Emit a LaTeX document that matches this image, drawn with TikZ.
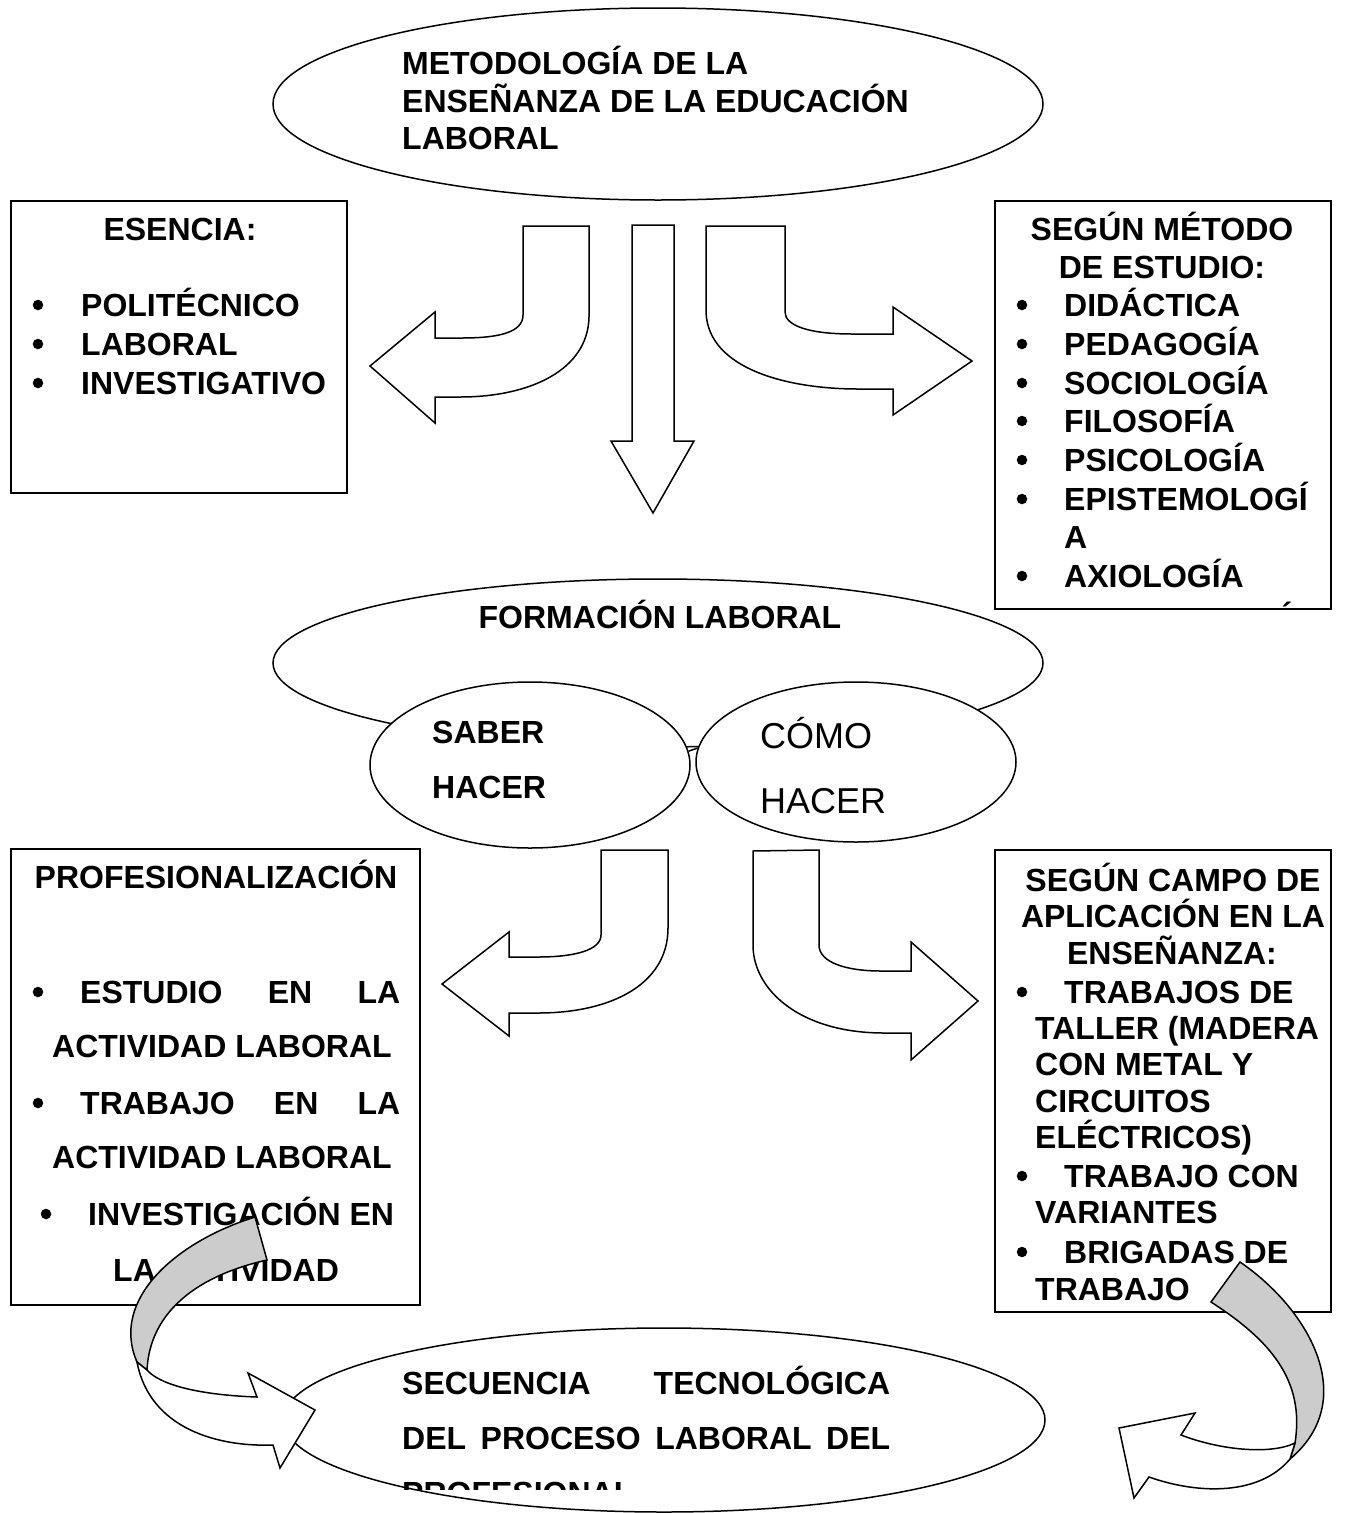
\documentclass[tikz,border=0pt]{standalone}
\usepackage{fontspec}
\setmainfont{Liberation Sans}
\usetikzlibrary{shapes.geometric}

\tikzset{
  caja/.style={draw=black, line width=2pt, inner sep=0pt},
  elipse/.style={ellipse, draw=black, line width=1.5pt, fill=white, inner sep=0pt},
  texto/.style={anchor=base west, inner sep=0pt, font=\bfseries\fontsize{32}{38}\selectfont},
  titulo/.style={texto, anchor=base},
  punto/.style={circle, fill=black, inner sep=0pt, minimum size=10.5pt},
  normal/.style={anchor=base west, inner sep=0pt, font=\fontsize{36}{44}\selectfont},
  flecha/.style={draw=black, line width=1.5pt, fill=white, line join=miter},
  cinta/.style={flecha, fill=black!20}
}

\begin{document}
\begin{tikzpicture}[x=1pt, y=-1pt]
\useasboundingbox (0,0) rectangle (1358,1513);

% cajas laterales
\node[caja, minimum width=336pt, minimum height=292pt] (esencia) at (179,347) {};
\node[titulo] (esencia-t) at (180,240) {ESENCIA:};
\foreach \txt/\yy [count=\i] in {POLITÉCNICO/316, LABORAL/355, INVESTIGATIVO/394} {
  \node[punto] (esencia-b\i) at (38,\yy-11) {};
  \node[texto] (esencia-\i) at (81,\yy) {\txt};
}

\node[caja, minimum width=336pt, minimum height=408pt] (metodo) at (1163,405) {};
\node[titulo] (metodo-t1) at (1162,240) {SEGÚN MÉTODO};
\node[titulo] (metodo-t2) at (1162,278) {DE ESTUDIO:};
\foreach \txt/\yy [count=\i] in {DIDÁCTICA/316, PEDAGOGÍA/355, SOCIOLOGÍA/394, FILOSOFÍA/432, PSICOLOGÍA/471, EPISTEMOLOGÍ/510, AXIOLOGÍA/587} {
  \node[punto] (metodo-b\i) at (1022,\yy-11) {};
  \node[texto] (metodo-\i) at (1064,\yy) {\txt};
}
\node[texto] (metodo-a) at (1064,548) {A};
\node[titulo] (acento) at (1287,625) {´};

\node[caja, minimum width=409pt, minimum height=456pt] (profes) at (215.5,1077) {};
\node[titulo] (profes-t) at (216,888) {PROFESIONALIZACIÓN};
\node[punto] (profes-b1) at (38,992) {};
\node[texto] (profes-1) at (80,1003) {\makebox[320pt][s]{ESTUDIO EN LA}};
\node[texto] (profes-1b) at (52,1057) {ACTIVIDAD LABORAL};
\node[punto] (profes-b2) at (38,1103) {};
\node[texto] (profes-2) at (80,1114) {\makebox[320pt][s]{TRABAJO EN LA}};
\node[texto] (profes-2b) at (52,1168) {ACTIVIDAD LABORAL};
\node[punto] (profes-b3) at (46,1214) {};
\node[texto] (profes-3) at (88,1225) {INVESTIGACIÓN EN};
\node[texto] (profes-3b) at (113,1281) {LA ACTIVIDAD};

\node[caja, minimum width=336pt, minimum height=462pt] (campo) at (1163,1081) {};
\node[titulo] (campo-t1) at (1173,891) {SEGÚN CAMPO DE};
\node[titulo] (campo-t2) at (1173,927) {APLICACIÓN EN LA};
\node[titulo] (campo-t3) at (1172,964) {ENSEÑANZA:};
\foreach \yy [count=\i] in {1003, 1187, 1263}
  \node[punto] (campo-b\i) at (1022,\yy-11) {};
\node[texto] (campo-1) at (1064,1003) {TRABAJOS DE};
\node[texto] (campo-2) at (1035,1039) {TALLER (MADERA};
\node[texto] (campo-3) at (1035,1075) {CON METAL Y};
\node[texto] (campo-4) at (1035,1112) {CIRCUITOS};
\node[texto] (campo-5) at (1035,1148) {ELÉCTRICOS)};
\node[texto] (campo-6) at (1064,1187) {TRABAJO CON};
\node[texto] (campo-7) at (1035,1223) {VARIANTES};
\node[texto] (campo-8) at (1064,1263) {BRIGADAS DE};
\node[texto] (campo-9) at (1035,1300) {TRABAJO};

% elipse superior
\node[elipse, minimum width=770pt, minimum height=192pt] (metodologia) at (658,104) {};
\node[texto] (met-1) at (402,74) {METODOLOGÍA DE LA};
\node[texto] (met-2) at (402,112) {ENSEÑANZA DE LA EDUCACIÓN};
\node[texto] (met-3) at (402,149) {LABORAL};

% flechas superiores
\draw[flecha] (523,226) -- (589,226) -- (589,317) .. controls (588,370) and (530,397) .. (460,397)
  -- (435,397) -- (435,423) -- (370,366) -- (435,312) -- (435,338) -- (462,338)
  .. controls (500,338) and (523,332) .. (523,315) -- cycle;
\draw[flecha] (632,225) -- (674,225) -- (674,441) -- (694,441) -- (653,513) -- (611,441) -- (632,441) -- cycle;
\draw[flecha] (706,226) -- (785,226) -- (785,312) .. controls (785,326) and (810,334) .. (852,334)
  -- (893,334) -- (893,307) -- (972,361) -- (893,415) -- (893,389) -- (858,389)
  .. controls (790,389) and (708,370) .. (706,312) -- cycle;

% formacion laboral
\node[elipse, minimum width=770pt, minimum height=168pt] (formacion) at (658,663) {};
\node[titulo] (formacion-t) at (660,628) {FORMACIÓN LABORAL};
\node[elipse, minimum width=320pt, minimum height=166pt] (saber) at (530,765) {};
\node[elipse, minimum width=320pt, minimum height=160pt] (como) at (856,762) {};
\draw[line width=1.5pt] (saber.5) -- (como.175);
\node[texto] (saber-1) at (432,743) {SABER};
\node[texto] (saber-2) at (432,798) {HACER};
\node[normal] (como-1) at (760,748) {CÓMO};
\node[normal] (como-2) at (760,813) {HACER};

% flechas inferiores
\draw[flecha] (601,850) -- (668,850) -- (668,928) .. controls (668,985) and (610,1013) .. (538,1013)
  -- (509,1013) -- (509,1036) -- (442,984) -- (509,932) -- (509,957) -- (538,957)
  .. controls (575,957) and (601,950) .. (601,935) -- cycle;
\draw[flecha] (753,851) -- (819,850) -- (819,945) .. controls (819,962) and (845,971) .. (881,971)
  -- (911,971) -- (911,942) -- (978,1001) -- (911,1060) -- (911,1033) -- (884,1033)
  .. controls (800,1033) and (753,990) .. (753,945) -- cycle;

% secuencia tecnologica
\node[elipse, minimum width=762pt, minimum height=184pt] (secuencia) at (664,1420) {};
\node[texto] (sec-1) at (402,1394) {\makebox[488pt][s]{SECUENCIA TECNOLÓGICA}};
\node[texto] (sec-2) at (402,1449) {\makebox[488pt][s]{DEL PROCESO LABORAL DEL}};
\begin{scope}
  \clip (380,1470) rectangle (900,1489);
  \node[texto] (sec-3) at (402,1504) {PROFESIONAL};
\end{scope}

% flechas curvas
\draw[cinta] (255,1217) .. controls (175,1242) and (110,1300) .. (137,1362) -- (147,1370)
  .. controls (150,1310) and (200,1275) .. (267,1260) -- cycle;
\draw[flecha] (137,1362) .. controls (150,1430) and (220,1447) .. (273,1445) -- (280,1468)
  -- (315,1410) -- (248,1373) -- (257,1397) .. controls (200,1395) and (160,1385) .. (147,1370) -- cycle;
\draw[cinta] (1240,1262) .. controls (1310,1310) and (1360,1400) .. (1290,1459) -- (1295,1443)
  .. controls (1305,1380) and (1270,1340) .. (1211,1302) -- cycle;
\draw[flecha] (1295,1443) .. controls (1270,1455) and (1220,1450) .. (1181,1435) -- (1195,1413)
  -- (1119,1428) -- (1134,1498) -- (1149,1477) .. controls (1200,1495) and (1260,1495) .. (1290,1459) -- cycle;

\end{tikzpicture}
\end{document}
